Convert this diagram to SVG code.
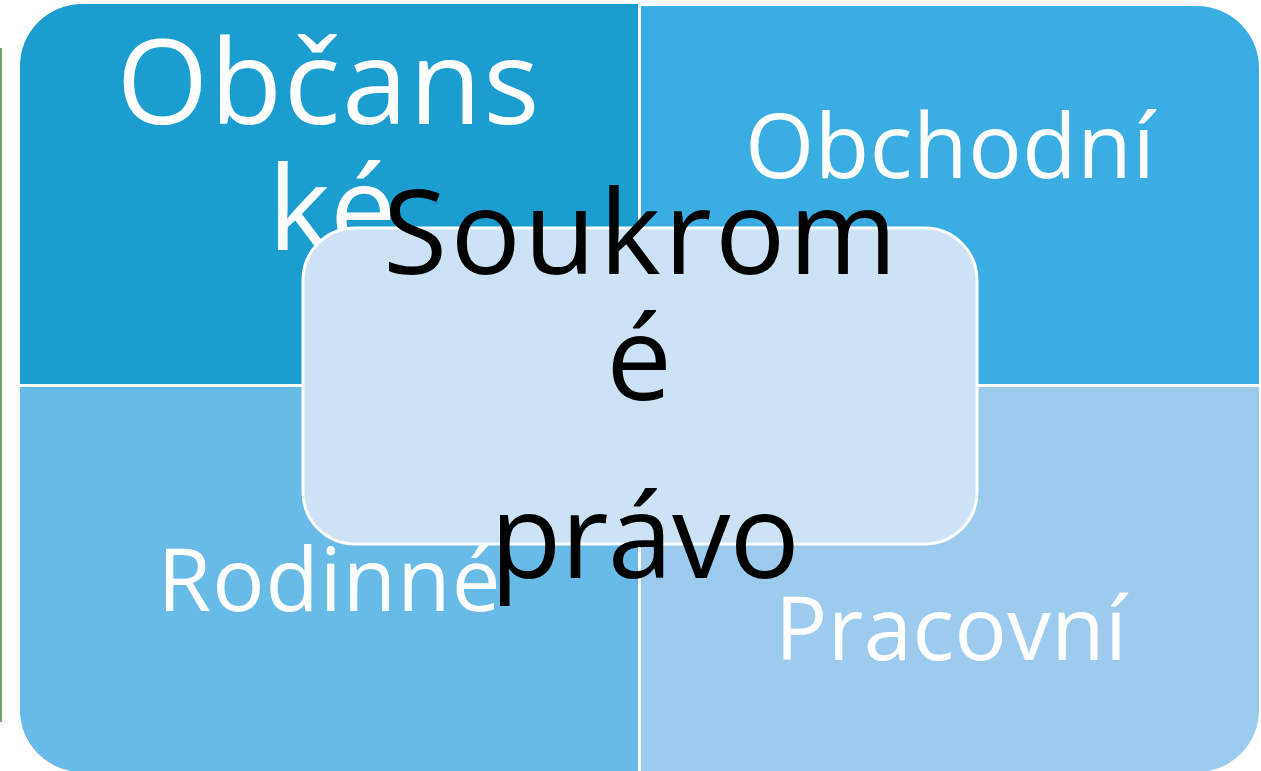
<svg xmlns="http://www.w3.org/2000/svg" width="1261" height="771" viewBox="0 0 1261 771">
  <style>
    .lbl { font-family: "Open Sans", "DejaVu Sans", sans-serif; fill: #ffffff; text-anchor: middle; }
    .ctr { font-family: "Open Sans", "DejaVu Sans", sans-serif; fill: #000000; text-anchor: middle; font-size: 117px; }
  </style>
  <rect width="1261" height="771" fill="#ffffff"/>
  <rect x="0" y="48" width="2" height="674" fill="#6aa86a"/>
  <g id="obcanske">
    <path d="M20,384 V66 A62,62 0 0 1 82,4 H638 V384 Z" fill="#1b9dd0"/>
    <text class="lbl" font-size="118" x="328" y="124" textLength="423" lengthAdjust="spacing">Občans</text>
    <text class="lbl" font-size="118" x="268" y="250" style="text-anchor:start">ké</text>
  </g>
  <g id="obchodni">
    <path d="M641,6 H1197 A62,62 0 0 1 1259,68 V384 H641 Z" fill="#3aade3"/>
    <text class="lbl" font-size="89" x="950" y="178" textLength="410" lengthAdjust="spacing">Obchodní</text>
  </g>
  <g id="rodinne">
    <path d="M20,387 H638 V772 H82 A62,62 0 0 1 20,710 Z" fill="#69bbe7"/>
    <text class="lbl" font-size="87" x="329" y="611" textLength="343" lengthAdjust="spacing">Rodinné</text>
  </g>
  <g id="pracovni">
    <path d="M641,387 H1259 V710 A62,62 0 0 1 1197,772 H641 Z" fill="#9ccbed"/>
    <text class="lbl" font-size="87" x="951" y="660" textLength="352" lengthAdjust="spacing">Pracovní</text>
  </g>
  <g id="soukrome">
    <rect x="303" y="228" width="674" height="316" rx="52" ry="52" fill="#cde3f5" stroke="#ffffff" stroke-width="3"/>
    <text class="ctr" x="640" y="274" textLength="514" lengthAdjust="spacing">Soukrom</text>
    <text class="ctr" x="639" y="400">é</text>
    <text class="ctr" x="645" y="578" textLength="310" lengthAdjust="spacing">právo</text>
  </g>
</svg>
